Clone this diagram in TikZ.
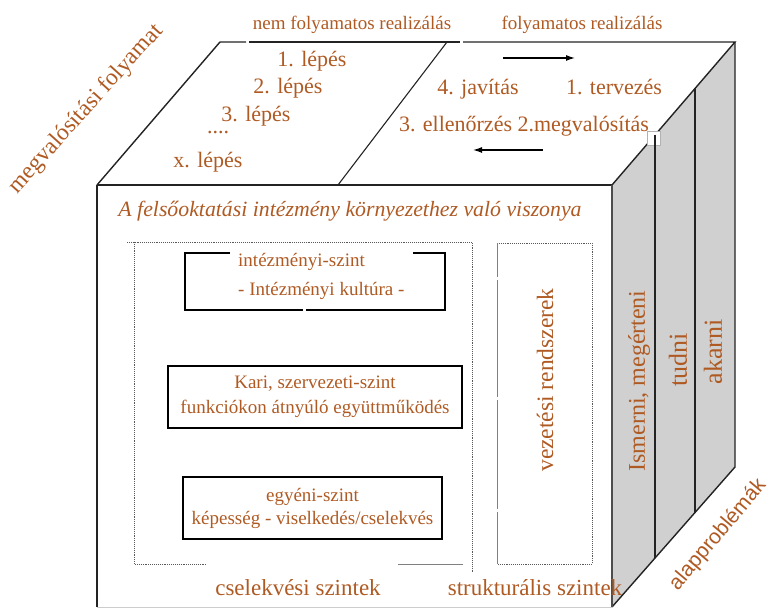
\documentclass[tikz,border=0pt]{standalone}
\usepackage{fontspec}
\setmainfont{Liberation Serif}
\newfontfamily\labelsans{Liberation Sans}
\usetikzlibrary{arrows.meta,calc}
\definecolor{txt}{RGB}{175,90,35}
\definecolor{sideface}{RGB}{208,208,208}
\definecolor{edge}{RGB}{35,35,35}
\newcommand\fsz[2]{\fontsize{#1}{#2}\selectfont}
\begin{document}
\begin{tikzpicture}[x=1pt,y=-1pt,
  cubeedge/.style={draw=edge,line width=1.4pt},
  lbl/.style={text=txt,inner sep=0pt},
  framebox/.style={draw=black,line width=1.8pt},
  dotbox/.style={draw=gray!70!black,densely dotted,line width=0.9pt},
  flowarrow/.style={-{Latex[length=9pt,width=6pt]},line width=1.2pt,draw=black}]
\useasboundingbox (0,0) rectangle (774,609);

% cube corners
\coordinate (FTL) at (97,185);
\coordinate (BTL) at (220,42);
\coordinate (BTR) at (735,42);
\coordinate (FTR) at (612,185);
\coordinate (FBR) at (612,607);
\coordinate (BBR) at (735,467);
\coordinate (FBL) at (97,607);
\coordinate (DT) at (447,42);
\coordinate (DB) at (338,185);

% right face
\fill[sideface] (FTR) -- (BTR) -- (BBR) -- (FBR) -- cycle;

% cube edges
\draw[cubeedge] (FTL) -- (BTL) -- (246,42);
\draw[cubeedge] (249,42) -- (460,42);
\draw[cubeedge] (463,42) -- (BTR) -- (FTR);
\draw[cubeedge] (BTR) -- (BBR) -- (FBR);
\draw[cubeedge] (FTL) -- (FTR);
\draw[cubeedge] (FTL) -- (FBL);
\draw[gray!40,line width=0.8pt] (FBL) -- (FBR);
\draw[draw=gray!60!black,line width=2pt] (FTR) -- (FBR);
\draw[cubeedge,line width=1.1pt] (DT) -- (DB);

% small white tab on the right face
\draw[gray!60,fill=white,line width=0.6pt] (647,131) rectangle (660,145);

% slices of the right face
\draw[cubeedge] ($(FTR)!0.35!(BTR)$) -- ($(FBR)!0.35!(BBR)$);
\draw[cubeedge] ($(FTR)!0.675!(BTR)$) -- ($(FBR)!0.675!(BBR)$);

% top face labels
\node[lbl,anchor=base,font=\fsz{19}{22}] (nonflow) at (352,30) {nem folyamatos realizálás};
\node[lbl,anchor=base,font=\fsz{19}{22}] (flow) at (582,30) {folyamatos realizálás};
\node[lbl,anchor=base,font=\fsz{22}{26}] (s1) at (312,67) {1. lépés};
\node[lbl,anchor=base,font=\fsz{22}{26}] (s2) at (288,94) {2. lépés};
\node[lbl,anchor=base,font=\fsz{22}{26}] (s3) at (256,122) {3. lépés};
\node[lbl,anchor=base,font=\fsz{22}{26}] (sdots) at (218,134) {....};
\node[lbl,anchor=base,font=\fsz{22}{26}] (sx) at (208,168) {x. lépés};
\node[lbl,anchor=base,font=\fsz{22}{26}] (c4) at (478,95) {4. javítás};
\node[lbl,anchor=base,font=\fsz{22}{26}] (c1) at (614,95) {1. tervezés};
\node[lbl,anchor=base,font=\fsz{22}{26}] (c32) at (524,132) {3. ellenőrzés 2.megvalósítás};

% cycle arrows
\coordinate (arAs) at (503,58);
\coordinate (arAe) at (575,58);
\coordinate (arBs) at (543,150);
\coordinate (arBe) at (473,150);
\draw[flowarrow] (arAs) -- (arAe);
\draw[flowarrow] (arBs) -- (arBe);

% axis labels
\node[lbl,rotate=48,font=\fsz{23.5}{26}] (process) at (86,109) {megvalósítási folyamat};
\node[lbl,rotate=50,font=\labelsans\fsz{21}{24}] (basic) at (718,535) {alapproblémák};

% front face title
\node[lbl,anchor=base,font=\itshape\fsz{21.8}{26}] (title) at (350,217) {A felsőoktatási intézmény környezethez való viszonya};

% action levels frame
\draw[dotbox] (127,242) -- (472,242) -- (472,572);
\draw[dotbox] (134,242) -- (134,564) -- (207,564);
\draw[gray,line width=0.9pt] (398,564) -- (463,564);

% institutional level
\node[lbl,anchor=base west,font=\fsz{19}{22}] (instA) at (238,267) {intézményi-szint};
\node[lbl,anchor=base west,font=\fsz{19}{22}] (instB) at (238,296) {- Intézményi kultúra -};
\draw[framebox] (230,253) -- (185,253) -- (185,310) -- (303,310);
\draw[framebox] (306,310) -- (445,310) -- (445,253) -- (413,253);

% faculty level
\node[framebox,lbl,text=txt,minimum width=294pt,minimum height=62pt,align=center,font=\fsz{19}{25}] (faculty) at (315,397)
  {Kari, szervezeti-szint\\funkciókon átnyúló együttműködés};

% individual level
\node[framebox,lbl,text=txt,minimum width=259pt,minimum height=62pt,align=center,font=\fsz{19}{23}] (indiv) at (312.5,508)
  {egyéni-szint\\képesség - viselkedés/cselekvés};

% management systems
\draw[dotbox] (497,243) -- (592,243) -- (592,564) -- (497,564);
\draw[gray,line width=0.8pt] (497,243) -- (497,277) (497,280) -- (497,397) (497,400) -- (497,509) (497,512) -- (497,564);
\node[lbl,rotate=90,font=\fsz{23.5}{26}] (mgmt) at (545,380) {vezetési rendszerek};

% bottom labels
\node[lbl,anchor=base,font=\fsz{23}{26}] (actlev) at (298,595) {cselekvési szintek};
\node[lbl,anchor=base,font=\fsz{23}{26}] (strlev) at (535,595) {strukturális szintek};

% right face labels
\node[lbl,rotate=90,font=\fsz{24}{26}] (know) at (639,381) {Ismerni, megérteni};
\node[lbl,rotate=90,font=\fsz{26}{28}] (can) at (678,360) {tudni};
\node[lbl,rotate=90,font=\fsz{26}{28}] (want) at (713,352) {akarni};
\end{tikzpicture}
\end{document}
